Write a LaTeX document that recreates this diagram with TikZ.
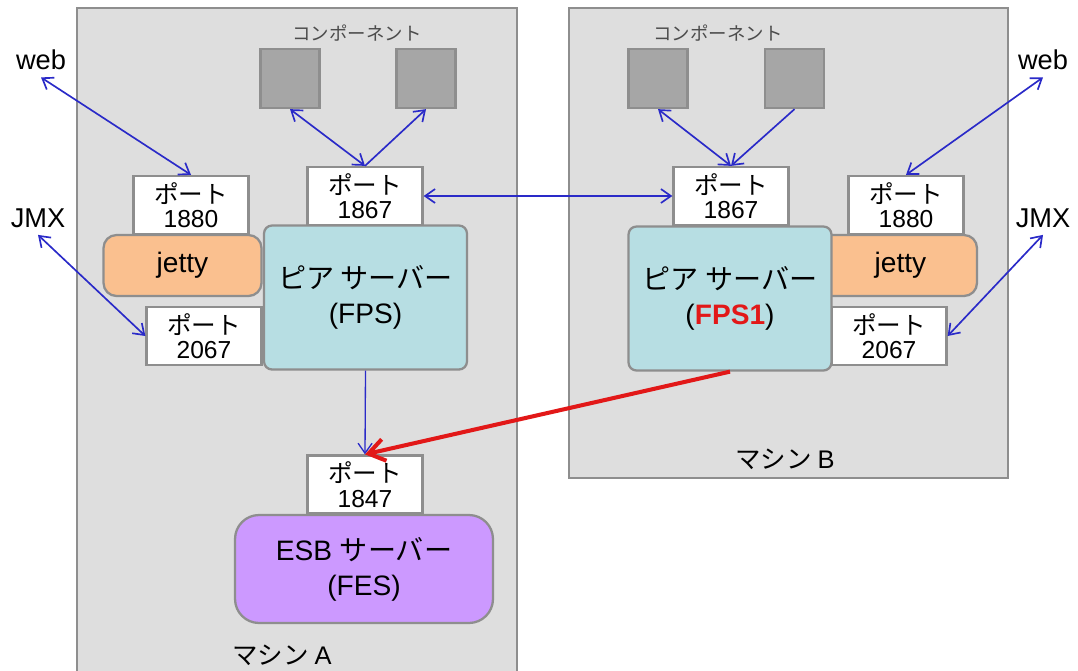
\documentclass[tikz,border=0pt]{standalone}
\usepackage{fontspec}
\usetikzlibrary{arrows.meta}
\setmainfont{Liberation Sans}
\newfontfamily\jpf{Noto Sans CJK JP}
\definecolor{maq}{HTML}{DEDEDE}
\definecolor{borda}{HTML}{8E8E8E}
\definecolor{compo}{HTML}{A6A6A6}
\definecolor{peer}{HTML}{B7DEE3}
\definecolor{jet}{HTML}{FAC08F}
\definecolor{esbc}{HTML}{CC99FF}
\definecolor{seta}{HTML}{2A2AC8}
\definecolor{verm}{HTML}{E21818}

\begin{document}
\begin{tikzpicture}[x=0.02cm, y=-0.02cm,
	>={Straight Barb[length=2mm, width=2.8mm]},
	caixa/.style={draw=borda, line width=1.3pt, inner sep=0pt, align=center},
	maquina/.style={caixa, fill=maq, line width=1.5pt},
	porta/.style={caixa, fill=white, minimum width=2.3cm, minimum height=1.16cm, font=\fontsize{14}{14}\selectfont},
	compbox/.style={caixa, fill=compo, minimum width=1.18cm, minimum height=1.18cm},
	jettybox/.style={caixa, fill=jet, rounded corners=0.26cm, minimum width=3.16cm, minimum height=1.22cm, font=\fontsize{16}{16}\selectfont},
	peerbox/.style={caixa, fill=peer, rounded corners=0.16cm, minimum width=4.06cm, minimum height=2.88cm, font=\fontsize{16}{20}\selectfont},
	esbbox/.style={caixa, fill=esbc, rounded corners=0.48cm, minimum width=5.16cm, minimum height=2.16cm, font=\fontsize{16}{20}\selectfont},
	rotulo/.style={font=\fontsize{15.5}{15.5}\selectfont, inner sep=1pt},
	link/.style={<->, seta, line width=0.95pt},
	]
	\useasboundingbox (0,0) rectangle (1078,670);

	% as duas maquinas
		\node[maquina, minimum width=8.8cm, minimum height=13.64cm] (machA) at (297,349) {};
		\node[maquina, minimum width=8.78cm, minimum height=9.4cm] (machB) at (788.5,243) {};
		\node[font=\jpf\fontsize{14.5}{14.5}\selectfont] (labA) at (282,655) {マシン {\rmfamily A}};
		\node[font=\jpf\fontsize{14.5}{14.5}\selectfont] (labB) at (785,459) {マシン {\rmfamily B}};

	% componentes
		\node[font=\jpf\fontsize{10.5}{10.5}\selectfont, text=black!70] (compLabA) at (357,33) {コンポーネント};
		\node[font=\jpf\fontsize{10.5}{10.5}\selectfont, text=black!70] (compLabB) at (718,33) {コンポーネント};
		\node[compbox] (compA1) at (290,78.5) {};
		\node[compbox] (compA2) at (426,78.5) {};
		\node[compbox] (compB1) at (658,78.5) {};
		\node[compbox] (compB2) at (794.5,78.5) {};

	% maquina A
		\node[porta] (p1867A) at (365,196) {{\jpf ポート}\\1867};
		\node[porta] (p1880A) at (191,205) {{\jpf ポート}\\1880};
		\node[porta] (p2067A) at (204,336) {{\jpf ポート}\\2067};
		\node[jettybox] (jettyA) at (182.5,265.5) {jetty};
		\node[peerbox] (fpsA) at (365.5,297.5) {{\jpf ピア サーバー}\\(FPS)};
		\node[porta] (p1847) at (365,484.5) {{\jpf ポート}\\1847};
		\node[esbbox] (esb) at (364,569) {ESB {\jpf サーバー}\\(FES)};

	% maquina B
		\node[porta] (p1867B) at (731,196) {{\jpf ポート}\\1867};
		\node[porta] (p1880B) at (906,205) {{\jpf ポート}\\1880};
		\node[porta] (p2067B) at (889,336) {{\jpf ポート}\\2067};
		\node[jettybox] (jettyB) at (898,265.5) {\hspace{0.1cm}jetty};
		\node[peerbox] (fpsB) at (730,298.5) {{\jpf ピア サーバー}\\({\color{verm}\textbf{FPS1}})};

	% fora das maquinas
		\node[rotulo] (webA) at (41,60) {web};
		\node[rotulo] (jmxA) at (38,218) {JMX};
		\node[rotulo] (webB) at (1043,60) {web};
		\node[rotulo] (jmxB) at (1043,218) {JMX};

	% as setas
		\draw[link] ([yshift=-3pt]webA.south) -- (p1880A.north);
		\draw[link] ([yshift=-3pt]jmxA.south) -- (p2067A.west);
		\draw[link] ([yshift=-3pt]webB.south) -- (p1880B.north);
		\draw[link] ([yshift=-3pt]jmxB.south) -- (p2067B.east);
		\draw[link] (compA1.south) -- (p1867A.north);
		\draw[link, <-] (compA2.south) -- (p1867A.north);
		\draw[link] (compB1.south) -- (p1867B.north);
		\draw[link, ->] (compB2.south) -- (p1867B.north);
		\draw[link] (p1867A.east) -- (p1867B.west);
		\draw[link, ->, line width=0.75pt] (fpsA.south) -- (p1847.north);
		\draw[-{Straight Barb[length=3.2mm, width=4.4mm]}, verm, line width=2.3pt] (fpsB.south) -- (p1847.north);
\end{tikzpicture}
\end{document}
